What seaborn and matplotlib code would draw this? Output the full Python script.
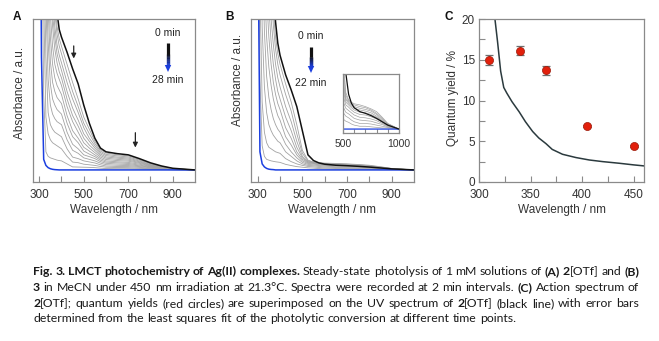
import numpy as np
import pandas as pd
import matplotlib
matplotlib.use("Agg")
import matplotlib.pyplot as plt
from matplotlib.lines import Line2D
from matplotlib.patches import Polygon
import seaborn as sns

# ---------------- data ----------------
wavelength = [300, 310, 320, 330, 340, 350, 360, 370, 380, 390, 400, 425, 450, 475,
              500, 525, 550, 575, 600, 650, 700, 750, 800, 850, 900, 1000]

# Panel A: 2[OTf], spectra every 2 min (0 -> 28 min)
A_0min = [3.0, 2.9, 2.8, 2.5, 2.1, 1.8, 1.55, 1.3, 1.04, 0.93, 0.88, 0.78, 0.67, 0.57, 0.43, 0.31, 0.21, 0.145, 0.12, 0.108, 0.10, 0.075, 0.047, 0.026, 0.011, 0.0]
A_2min = [3.0, 2.9, 2.7, 2.4, 2.0, 1.7, 1.4, 1.12, 0.95, 0.87, 0.82, 0.70, 0.58, 0.47, 0.35, 0.27, 0.19, 0.135, 0.112, 0.100, 0.093, 0.070, 0.043, 0.024, 0.010, 0.0]
A_4min = [3.0, 2.9, 2.7, 2.3, 1.95, 1.6, 1.3, 1.04, 0.90, 0.82, 0.77, 0.64, 0.52, 0.42, 0.31, 0.24, 0.175, 0.125, 0.103, 0.093, 0.086, 0.065, 0.040, 0.022, 0.009, 0.0]
A_6min = [3.0, 2.9, 2.6, 2.2, 1.85, 1.5, 1.15, 0.95, 0.83, 0.76, 0.71, 0.58, 0.47, 0.38, 0.28, 0.21, 0.16, 0.115, 0.095, 0.085, 0.079, 0.059, 0.036, 0.020, 0.009, 0.0]
A_8min = [3.0, 2.9, 2.6, 2.1, 1.75, 1.35, 1.03, 0.88, 0.77, 0.71, 0.66, 0.52, 0.41, 0.33, 0.24, 0.19, 0.145, 0.105, 0.086, 0.078, 0.072, 0.054, 0.033, 0.019, 0.008, 0.0]
A_10min = [3.0, 2.9, 2.5, 2.0, 1.6, 1.2, 0.95, 0.80, 0.71, 0.65, 0.61, 0.47, 0.36, 0.29, 0.21, 0.165, 0.13, 0.095, 0.078, 0.070, 0.065, 0.049, 0.030, 0.017, 0.007, 0.0]
A_12min = [3.0, 2.8, 2.4, 1.9, 1.45, 1.03, 0.82, 0.70, 0.64, 0.60, 0.56, 0.42, 0.32, 0.25, 0.18, 0.145, 0.115, 0.085, 0.069, 0.062, 0.058, 0.044, 0.027, 0.015, 0.006, 0.0]
A_14min = [3.0, 2.8, 2.3, 1.7, 1.25, 0.88, 0.70, 0.61, 0.56, 0.53, 0.50, 0.36, 0.26, 0.21, 0.15, 0.125, 0.10, 0.075, 0.060, 0.054, 0.050, 0.038, 0.024, 0.013, 0.005, 0.0]
A_16min = [3.0, 2.8, 2.2, 1.5, 1.06, 0.72, 0.58, 0.52, 0.48, 0.46, 0.44, 0.31, 0.22, 0.18, 0.125, 0.105, 0.088, 0.065, 0.052, 0.047, 0.043, 0.032, 0.021, 0.011, 0.004, 0.0]
A_18min = [3.0, 2.7, 2.0, 1.3, 0.85, 0.57, 0.47, 0.43, 0.40, 0.385, 0.37, 0.25, 0.17, 0.14, 0.10, 0.088, 0.075, 0.055, 0.044, 0.039, 0.036, 0.027, 0.018, 0.009, 0.004, 0.0]
A_20min = [3.0, 2.6, 1.8, 1.1, 0.60, 0.43, 0.37, 0.34, 0.32, 0.31, 0.30, 0.20, 0.13, 0.11, 0.08, 0.07, 0.06, 0.045, 0.035, 0.031, 0.029, 0.022, 0.015, 0.008, 0.003, 0.0]
A_22min = [3.0, 2.5, 1.5, 0.75, 0.38, 0.30, 0.27, 0.25, 0.24, 0.23, 0.22, 0.14, 0.085, 0.075, 0.06, 0.053, 0.046, 0.034, 0.026, 0.023, 0.022, 0.017, 0.011, 0.006, 0.002, 0.0]
A_24min = [3.0, 2.2, 1.1, 0.35, 0.24, 0.20, 0.18, 0.17, 0.16, 0.15, 0.14, 0.09, 0.052, 0.048, 0.038, 0.034, 0.030, 0.023, 0.018, 0.016, 0.015, 0.011, 0.008, 0.004, 0.002, 0.0]
A_26min = [3.0, 1.8, 0.5, 0.12, 0.09, 0.08, 0.075, 0.07, 0.065, 0.062, 0.06, 0.04, 0.02, 0.019, 0.018, 0.017, 0.015, 0.012, 0.009, 0.008, 0.008, 0.006, 0.004, 0.002, 0.001, 0.0]
A_28min = [3.0, 0.75, 0.07, 0.03, 0.015, 0.008, 0.004, 0.002, 0.001, 0.0, 0.0, 0.0, 0.0, 0.0, 0.0, 0.0, 0.0, 0.0, 0.0, 0.0, 0.0, 0.0, 0.0, 0.0, 0.0, 0.0]

# Panel B: 3, spectra every 2 min (0 -> 22 min)
B_0min = [3.0, 2.9, 2.7, 2.4, 2.0, 1.7, 1.45, 1.18, 0.98, 0.84, 0.76, 0.63, 0.53, 0.42, 0.26, 0.10, 0.062, 0.046, 0.038, 0.031, 0.028, 0.024, 0.019, 0.013, 0.007, 0.0]
B_2min = [3.0, 2.9, 2.6, 2.3, 1.9, 1.6, 1.3, 1.05, 0.88, 0.77, 0.70, 0.57, 0.45, 0.30, 0.13, 0.065, 0.052, 0.048, 0.045, 0.043, 0.040, 0.036, 0.031, 0.021, 0.010, 0.0]
B_4min = [3.0, 2.9, 2.5, 2.2, 1.8, 1.5, 1.2, 0.96, 0.80, 0.70, 0.63, 0.50, 0.39, 0.24, 0.11, 0.060, 0.050, 0.046, 0.043, 0.040, 0.038, 0.034, 0.028, 0.019, 0.009, 0.0]
B_6min = [3.0, 2.8, 2.4, 2.0, 1.6, 1.3, 1.0, 0.83, 0.70, 0.61, 0.55, 0.42, 0.32, 0.19, 0.09, 0.055, 0.048, 0.043, 0.040, 0.037, 0.035, 0.032, 0.026, 0.017, 0.009, 0.0]
B_8min = [3.0, 2.7, 2.3, 1.9, 1.5, 1.08, 0.85, 0.70, 0.60, 0.52, 0.47, 0.35, 0.26, 0.15, 0.08, 0.052, 0.046, 0.041, 0.037, 0.034, 0.032, 0.029, 0.023, 0.015, 0.008, 0.0]
B_10min = [3.0, 2.6, 2.1, 1.7, 1.15, 0.88, 0.70, 0.58, 0.50, 0.44, 0.40, 0.28, 0.21, 0.12, 0.07, 0.048, 0.043, 0.038, 0.034, 0.030, 0.029, 0.026, 0.021, 0.014, 0.007, 0.0]
B_12min = [3.0, 2.5, 1.9, 1.25, 0.88, 0.68, 0.56, 0.47, 0.41, 0.36, 0.33, 0.22, 0.165, 0.10, 0.06, 0.043, 0.039, 0.034, 0.030, 0.026, 0.025, 0.022, 0.018, 0.012, 0.006, 0.0]
B_14min = [3.0, 2.3, 1.5, 0.92, 0.62, 0.48, 0.40, 0.34, 0.30, 0.27, 0.25, 0.17, 0.12, 0.08, 0.05, 0.037, 0.033, 0.029, 0.025, 0.021, 0.020, 0.018, 0.015, 0.010, 0.005, 0.0]
B_16min = [3.0, 2.0, 0.95, 0.55, 0.38, 0.30, 0.26, 0.23, 0.21, 0.19, 0.18, 0.12, 0.09, 0.06, 0.04, 0.030, 0.027, 0.023, 0.019, 0.016, 0.015, 0.014, 0.011, 0.008, 0.004, 0.0]
B_18min = [3.0, 1.2, 0.45, 0.25, 0.18, 0.15, 0.14, 0.13, 0.12, 0.115, 0.11, 0.075, 0.055, 0.04, 0.03, 0.023, 0.020, 0.016, 0.013, 0.010, 0.010, 0.009, 0.007, 0.005, 0.003, 0.0]
B_20min = [2.5, 0.6, 0.16, 0.09, 0.07, 0.065, 0.06, 0.057, 0.054, 0.052, 0.05, 0.037, 0.029, 0.022, 0.018, 0.014, 0.012, 0.009, 0.007, 0.005, 0.005, 0.004, 0.003, 0.002, 0.002, 0.0]
B_22min = [1.8, 0.12, 0.04, 0.02, 0.01, 0.005, 0.003, 0.002, 0.0, 0.0, 0.0, 0.0, 0.0, 0.0, 0.0, 0.0, 0.0, 0.0, 0.0, 0.0, 0.0, 0.0, 0.0, 0.0, 0.0, 0.0]

# Panel C: action spectrum
qy_wavelength = [310, 340, 365, 405, 450]
quantum_yield = [15.0, 16.1, 13.7, 6.9, 4.4]
qy_error = [0.6, 0.55, 0.55, 0.15, 0.15]
uv_wavelength = [315, 318, 321, 324, 327, 332, 339, 345, 352, 358, 365, 371, 381, 394, 407, 420, 436, 450, 462]
uv_absorbance = [20.5, 17.2, 13.6, 11.6, 10.9, 9.85, 8.6, 7.4, 6.2, 5.4, 4.7, 4.0, 3.4, 3.0, 2.7, 2.5, 2.3, 2.1, 1.95]

A_times = ["0 min", "2 min", "4 min", "6 min", "8 min", "10 min", "12 min", "14 min",
           "16 min", "18 min", "20 min", "22 min", "24 min", "26 min", "28 min"]
B_times = ["0 min", "2 min", "4 min", "6 min", "8 min", "10 min", "12 min", "14 min",
           "16 min", "18 min", "20 min", "22 min"]
A_spectra = [A_0min, A_2min, A_4min, A_6min, A_8min, A_10min, A_12min, A_14min,
             A_16min, A_18min, A_20min, A_22min, A_24min, A_26min, A_28min]
B_spectra = [B_0min, B_2min, B_4min, B_6min, B_8min, B_10min, B_12min, B_14min,
             B_16min, B_18min, B_20min, B_22min]


def long_frame(times, spectra):
    rows = []
    for t, s in zip(times, spectra):
        for w, a in zip(wavelength, s):
            rows.append({"time": t, "wl": w, "abs": a})
    return pd.DataFrame(rows)


dfA = long_frame(A_times, A_spectra)
dfB = long_frame(B_times, B_spectra)
dfQ = pd.DataFrame({"wl": qy_wavelength, "qy": quantum_yield, "err": qy_error})
dfU = pd.DataFrame({"wl": uv_wavelength, "val": uv_absorbance})

# ---------------- style ----------------
sns.set_theme(style="white")
plt.rcParams["font.family"] = ["Liberation Sans", "DejaVu Sans"]

GRAY = "#a2a2a2"
BLACK = "#111111"
BLUE = "#1c3fe0"
SPINE = "#8a8a8a"
TXT = "#333333"

W, H = 659, 341
fig = plt.figure(figsize=(W / 100, H / 100), dpi=100)
fig.patch.set_facecolor("white")


def fx(px):
    return px / W


def fy(py):
    return 1 - py / H


axA = fig.add_axes([fx(33), fy(182), (195 - 33) / W, (182 - 19) / H])
axB = fig.add_axes([fx(251), fy(182), (414 - 251) / W, (182 - 19) / H])
axC = fig.add_axes([fx(479), fy(182), (644 - 479) / W, (182 - 19) / H])
axI = fig.add_axes([fx(343), fy(133), (399 - 343) / W, (133 - 74) / H])


def draw_spectra(ax, df, times, lw_gray=0.6, lw_main=1.1):
    grays = times[1:-1]
    sns.lineplot(data=df[df.time.isin(grays)], x="wl", y="abs", hue="time",
                 hue_order=grays, palette=[GRAY] * len(grays), legend=False,
                 linewidth=lw_gray, estimator=None, sort=False, ax=ax)
    sns.lineplot(data=df[df.time == times[-1]], x="wl", y="abs", color=BLUE,
                 linewidth=lw_main, estimator=None, sort=False, ax=ax)
    sns.lineplot(data=df[df.time == times[0]], x="wl", y="abs", color=BLACK,
                 linewidth=lw_main, estimator=None, sort=False, ax=ax)


def style_axes(ax, xlim, ylim, major, minor, labelsize=8.5, pad=5):
    ax.set_xlim(*xlim)
    ax.set_ylim(*ylim)
    ax.set_xticks(major)
    ax.set_xticks(minor, minor=True)
    ax.set_yticks([])
    ax.tick_params(axis="x", which="both", direction="in", length=4, width=0.8,
                   color=SPINE, labelsize=labelsize, labelcolor=TXT, pad=pad,
                   bottom=True, top=False)
    for s in ax.spines.values():
        s.set_color(SPINE)
        s.set_linewidth(0.9)
    ax.set_xlabel("")
    ax.set_ylabel("")


def set_labels(ax, ylab, ycoord, xcoord=-0.08):
    ax.set_xlabel("Wavelength / nm", fontsize=8.5, color=TXT)
    ax.xaxis.label.set_va("center")
    ax.xaxis.set_label_coords(0.5, (182 - 210) / 163)
    ax.set_ylabel(ylab, fontsize=8.5, color=TXT)
    ax.yaxis.label.set_va("center")
    ax.yaxis.label.set_ha("center")
    ax.yaxis.set_label_coords(xcoord, ycoord)


# Panel A
draw_spectra(axA, dfA, A_times)
style_axes(axA, (272, 1000), (-0.08, 1.0), [300, 500, 700, 900], [400, 600, 800])
set_labels(axA, "Absorbance / a.u.", (182 - 93) / 163)
axA.annotate("", xy=(455, 0.72), xytext=(455, 0.84),
             arrowprops=dict(arrowstyle="-|>", color="#222222", lw=0.9, mutation_scale=7))
axA.annotate("", xy=(732, 0.13), xytext=(732, 0.265),
             arrowprops=dict(arrowstyle="-|>", color="#222222", lw=0.9, mutation_scale=7))

# Panel B
draw_spectra(axB, dfB, B_times)
style_axes(axB, (270, 1000), (-0.08, 1.0), [300, 500, 700, 900], [400, 600, 800])
set_labels(axB, "Absorbance / a.u.", (182 - 80) / 163)

# Inset of panel B
draw_spectra(axI, dfB, B_times, lw_gray=0.5, lw_main=0.9)
style_axes(axI, (500, 1000), (-0.007, 0.098), [500, 1000], [600, 700, 800, 900],
           labelsize=7.5, pad=4)
axI.tick_params(axis="x", which="both", length=3)

# Panel C
sns.lineplot(data=dfU, x="wl", y="val", color="#2b3a3e", linewidth=1.1,
             estimator=None, sort=False, ax=axC)
axC.errorbar(dfQ.wl, dfQ.qy, yerr=dfQ.err, fmt="none", ecolor="#6e6e6e",
             elinewidth=0.9, capsize=3, capthick=0.9, zorder=3)
sns.scatterplot(data=dfQ, x="wl", y="qy", s=34, color="#e2200c",
                edgecolor="#9a1a0a", linewidth=0.5, zorder=4, ax=axC)
axC.set_xlim(300, 460)
axC.set_ylim(0, 20)
axC.set_xticks([300, 350, 400, 450])
axC.set_xticks([325, 375, 425], minor=True)
axC.set_yticks([0, 5, 10, 15, 20])
axC.set_yticks([2.5, 7.5, 12.5, 17.5], minor=True)
axC.tick_params(axis="both", which="both", direction="in", length=4, width=0.8,
                color=SPINE, labelsize=8.5, labelcolor=TXT, pad=3,
                bottom=True, left=True, top=False, right=False)
axC.tick_params(axis="x", which="both", pad=5)
for s in axC.spines.values():
    s.set_color(SPINE)
    s.set_linewidth(0.9)
set_labels(axC, "Quantum yield / %", (182 - 98) / 163, xcoord=(453 - 479) / 165)

# panel letters
for letter, (px, py) in zip("ABC", [(17, 17), (229, 17), (449, 17)]):
    fig.text(fx(px), fy(py), letter, fontsize=8.5, weight="bold", ha="center",
             va="center", color="#111111")


# gradient time arrows
def time_arrow(px, py0, py1, top_label, bottom_label, ly0, ly1):
    fig.text(fx(px), fy(ly0), top_label, fontsize=7.5, ha="center", va="center", color="#222222")
    fig.text(fx(px), fy(ly1), bottom_label, fontsize=7.5, ha="center", va="center", color="#222222")
    head = 7
    shaft_end = py1 - head + 1
    n = 20
    c0 = np.array(matplotlib.colors.to_rgb(BLACK))
    c1 = np.array(matplotlib.colors.to_rgb(BLUE))
    # solid black upper part
    split = py0 + 0.5 * (shaft_end - py0)
    fig.add_artist(Line2D([fx(px), fx(px)], [fy(py0), fy(split)], color=BLACK,
                          lw=2.3, solid_capstyle="butt"))
    ys = np.linspace(split, shaft_end, n + 1)
    for i in range(n):
        g = (i + 0.5) / n
        col = c0 * (1 - g) + c1 * g
        y_a = ys[i] - 0.6 if i > 0 else ys[i]
        fig.add_artist(Line2D([fx(px), fx(px)], [fy(y_a), fy(ys[i + 1])],
                              color=col, lw=2.3, solid_capstyle="butt"))
    fig.add_artist(Polygon([[fx(px - 3.2), fy(py1 - head)], [fx(px + 3.2), fy(py1 - head)],
                            [fx(px), fy(py1)]], closed=True, color=BLUE, lw=0))


time_arrow(168, 43, 72, "0 min", "28 min", 33, 80)
time_arrow(311, 47, 73, "0 min", "22 min", 36, 83)

# ---------------- caption (justified) ----------------
caption_lines = [
    [("Fig. 3. LMCT photochemistry of Ag(II) complexes.", True),
     (" Steady-state photolysis of 1 mM solutions of ", False), ("(A)", True), (" ", False),
     ("2", True), ("[OTf] and ", False), ("(B)", True)],
    [("3", True), (" in MeCN under 450 nm irradiation at 21.3°C. Spectra were recorded at 2 min intervals. ", False),
     ("(C)", True), (" Action spectrum of", False)],
    [("2", True), ("[OTf]; quantum yields (red circles) are superimposed on the UV spectrum of ", False),
     ("2", True), ("[OTf] (black line) with error bars", False)],
    [("determined from the least squares fit of the photolytic conversion at different time points.", False)],
]
cap_baselines = [275, 291, 307, 322]
cap_x0, cap_x1 = 33, 639
cap_last_end = 517
cap_family = ["Lato", "DejaVu Sans"]

renderer = fig.canvas.get_renderer()


def measure(text, bold, size):
    t = fig.text(0, 0, text, fontsize=size, family=cap_family,
                 weight="bold" if bold else "normal")
    w = t.get_window_extent(renderer).width
    t.remove()
    return w


def split_words(runs):
    words = [[]]
    for text, bold in runs:
        parts = text.split(" ")
        for j, p in enumerate(parts):
            if j > 0:
                words.append([])
            if p:
                words[-1].append((p, bold))
    return [w for w in words if w]


# choose the font size so that the last (unjustified) line ends where the reference does
ref_size = 10.0
last_words = split_words(caption_lines[-1])
sp10 = measure("a a", False, ref_size) - measure("aa", False, ref_size)
w10 = sum(measure(p, b, ref_size) for w in last_words for p, b in w) + sp10 * (len(last_words) - 1)
cap_size = ref_size * (cap_last_end - cap_x0) / w10
space_w = measure("a a", False, cap_size) - measure("aa", False, cap_size)

for li, (runs, base) in enumerate(zip(caption_lines, cap_baselines)):
    words = split_words(runs)
    widths = [[measure(p, b, cap_size) for p, b in w] for w in words]
    total = sum(sum(ws) for ws in widths)
    if li < len(caption_lines) - 1 and len(words) > 1:
        gap = (cap_x1 - cap_x0 - total) / (len(words) - 1)
    else:
        gap = space_w
    x = cap_x0
    for w, ws in zip(words, widths):
        for (p, b), pw in zip(w, ws):
            fig.text(fx(x), fy(base), p, fontsize=cap_size, family=cap_family,
                     weight="bold" if b else "normal", ha="left", va="baseline",
                     color="#1a1a1a")
            x += pw
        x += gap

fig.savefig("out.png", dpi=100, facecolor="white")
